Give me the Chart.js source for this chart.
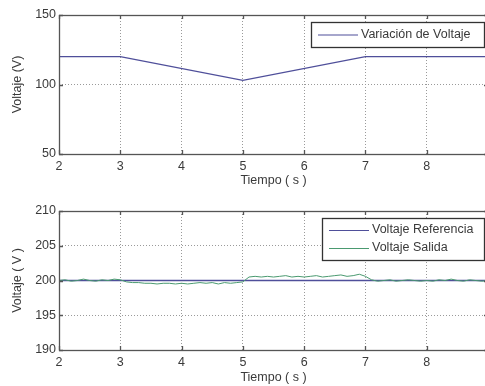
<!DOCTYPE html>
<html>
<head>
<meta charset="utf-8">
<script src="https://cdn.jsdelivr.net/npm/chart.js@4.4.1/dist/chart.umd.min.js"></script>
<style>
  html, body { margin: 0; padding: 0; background: #fff; overflow: hidden; }
  .wrap { position: absolute; left: 0; width: 497px; height: 193px; }
</style>
</head>
<body>
<div class="wrap" style="top:0"><canvas id="top"></canvas></div>
<div class="wrap" style="top:193px"><canvas id="bottom"></canvas></div>
<script>
"use strict";

// datos del grafico superior
const tiempoSup = [2, 3, 5, 7, 9];
const voltajeVariacion = [120, 120, 103, 120, 120];
const ticksSupY = [50, 100, 150];

// datos del grafico inferior
const tiempoRef = [2, 9];
const voltajeReferencia = [200, 200];
const tiempoSalida = [
  2.0, 2.1, 2.2, 2.3, 2.4, 2.5, 2.6, 2.7, 2.8, 2.9,
  3.0, 3.1, 3.2, 3.3, 3.4, 3.5, 3.6, 3.7, 3.8, 3.9,
  4.0, 4.1, 4.2, 4.3, 4.4, 4.5, 4.6, 4.7, 4.8, 4.9,
  5.0, 5.1, 5.2, 5.3, 5.4, 5.5, 5.6, 5.7, 5.8, 5.9,
  6.0, 6.1, 6.2, 6.3, 6.4, 6.5, 6.6, 6.7, 6.8, 6.9,
  7.0, 7.1, 7.2, 7.3, 7.4, 7.5, 7.6, 7.7, 7.8, 7.9,
  8.0, 8.1, 8.2, 8.3, 8.4, 8.5, 8.6, 8.7, 8.8, 8.9, 9.0
];
const voltajeSalida = [
  200.0, 200.1, 199.9, 200.0, 200.2, 200.0, 199.9, 200.1, 200.0, 200.2,
  200.1, 199.8, 199.7, 199.7, 199.6, 199.6, 199.5, 199.6, 199.6, 199.5,
  199.6, 199.5, 199.6, 199.7, 199.6, 199.7, 199.5, 199.7, 199.6, 199.7,
  199.8, 200.5, 200.6, 200.5, 200.6, 200.5, 200.6, 200.7, 200.5, 200.6,
  200.5, 200.6, 200.7, 200.5, 200.6, 200.7, 200.8, 200.6, 200.7, 200.9,
  200.6, 200.1, 199.9, 200.0, 200.1, 199.9, 200.0, 200.1, 200.0, 199.9,
  200.0, 199.9, 200.1, 200.0, 200.2, 200.0, 199.9, 200.1, 200.0, 199.9, 200.0
];
const ticksInfY = [190, 195, 200, 205, 210];
const ticksX = [2, 3, 4, 5, 6, 7, 8, 9];

const azul = '#4f4f9a';
const verde = '#4a9a70';
const colorEje = '#555555';
const colorTexto = '#3a3a3a';
const fuente = "'Liberation Sans', Arial, sans-serif";

function toPoints(xs, ys) {
  return xs.map((x, i) => ({x: x, y: ys[i]}));
}

// caja de los ejes + marcas interiores + leyenda dentro del grafico
const cajaPlugin = {
  id: 'caja',
  afterDatasetsDraw(chart, args, opts) {
    const c = chart.ctx;
    const a = chart.chartArea;
    c.save();
    c.strokeStyle = colorEje;
    c.lineWidth = 1.3;
    c.strokeRect(a.left + 0.5, a.top + 0.5, a.right - a.left, a.bottom - a.top);
    // marcas interiores
    c.beginPath();
    chart.scales.x.ticks.forEach(t => {
      const px = Math.round(chart.scales.x.getPixelForValue(t.value)) + 0.5;
      c.moveTo(px, a.bottom); c.lineTo(px, a.bottom - 4);
      c.moveTo(px, a.top); c.lineTo(px, a.top + 4);
    });
    chart.scales.y.ticks.forEach(t => {
      const py = Math.round(chart.scales.y.getPixelForValue(t.value)) + 0.5;
      c.moveTo(a.left, py); c.lineTo(a.left + 4, py);
      c.moveTo(a.right, py); c.lineTo(a.right - 4, py);
    });
    c.stroke();

    // leyenda
    const lg = opts.leyenda;
    c.fillStyle = '#ffffff';
    c.fillRect(lg.x, lg.y, lg.w, lg.h);
    c.strokeStyle = '#333333';
    c.lineWidth = 1.3;
    c.strokeRect(lg.x + 0.5, lg.y + 0.5, lg.w, lg.h);
    c.font = '12.5px ' + fuente;
    c.textBaseline = 'middle';
    c.fillStyle = colorTexto;
    lg.items.forEach((it, i) => {
      const yy = lg.y + lg.first + i * lg.step;
      c.strokeStyle = it.color;
      c.lineWidth = 1.2;
      c.beginPath();
      c.moveTo(lg.x + 7, yy + 0.5);
      c.lineTo(lg.x + 47, yy + 0.5);
      c.stroke();
      c.fillText(it.text, lg.x + 50, yy);
    });
    c.restore();
  }
};

function escalas(minY, maxY, ticksY, xHeight, titlePad) {
  return {
    x: {
      type: 'linear',
      min: 2, max: 9,
      afterBuildTicks: s => { s.ticks = ticksX.map(v => ({value: v})); },
      afterFit: s => { s.height = xHeight; },
      grid: { color: '#9a9a9a', lineWidth: 1, drawTicks: false, drawOnChartArea: true },
      border: { display: false, dash: [1, 2] },
      ticks: { color: colorTexto, font: { size: 12.5, family: fuente }, padding: 5, maxRotation: 0 },
      title: { display: true, text: 'Tiempo ( s )', color: colorTexto, font: { size: 12.5, family: fuente }, padding: { top: 0, bottom: titlePad } }
    },
    y: {
      type: 'linear',
      min: minY, max: maxY,
      afterBuildTicks: s => { s.ticks = ticksY.map(v => ({value: v})); },
      afterFit: s => { s.width = 59; },
      grid: { color: '#9a9a9a', lineWidth: 1, drawTicks: false },
      border: { display: false, dash: [1, 2] },
      ticks: { color: colorTexto, font: { size: 12.5, family: fuente }, padding: 3 },
      title: { display: true, color: colorTexto, font: { size: 12.5, family: fuente }, padding: { top: 10, bottom: 0 } }
    }
  };
}

Chart.defaults.animation = false;
Chart.defaults.responsive = false;

// grafico superior
const escSup = escalas(50, 150, ticksSupY, 39, 5);
escSup.y.title.text = 'Voltaje (V)';
const cvSup = document.getElementById('top');
cvSup.width = 497; cvSup.height = 193;
new Chart(cvSup, {
  type: 'line',
  data: {
    datasets: [{
      label: 'Variación de Voltaje',
      data: toPoints(tiempoSup, voltajeVariacion),
      borderColor: azul, borderWidth: 1.3, pointRadius: 0, tension: 0
    }]
  },
  options: {
    responsive: false,
    layout: { padding: { top: 15, right: 9, left: 0, bottom: 0 } },
    plugins: {
      legend: { display: false }, tooltip: { enabled: false },
      caja: { leyenda: { x: 311, y: 22, w: 173, h: 25, first: 12.5, step: 0,
        items: [{ text: 'Variación de Voltaje', color: azul }] } }
    },
    scales: escSup
  },
  plugins: [cajaPlugin]
});

// grafico inferior
const escInf = escalas(190, 210, ticksInfY, 36, 1);
escInf.y.title.text = 'Voltaje ( V )';
const cvInf = document.getElementById('bottom');
cvInf.width = 497; cvInf.height = 193;
new Chart(cvInf, {
  type: 'line',
  data: {
    datasets: [{
      label: 'Voltaje Referencia',
      data: toPoints(tiempoRef, voltajeReferencia),
      borderColor: azul, borderWidth: 1.3, pointRadius: 0, tension: 0, order: 1
    }, {
      label: 'Voltaje Salida',
      data: toPoints(tiempoSalida, voltajeSalida),
      borderColor: verde, borderWidth: 1, pointRadius: 0, tension: 0, order: 0
    }]
  },
  options: {
    responsive: false,
    layout: { padding: { top: 18, right: 9, left: 0, bottom: 0 } },
    plugins: {
      legend: { display: false }, tooltip: { enabled: false },
      caja: { leyenda: { x: 322, y: 25, w: 162, h: 42, first: 12, step: 18,
        items: [{ text: 'Voltaje Referencia', color: azul }, { text: 'Voltaje Salida', color: verde }] } }
    },
    scales: escInf
  },
  plugins: [cajaPlugin]
});
</script>
</body>
</html>
